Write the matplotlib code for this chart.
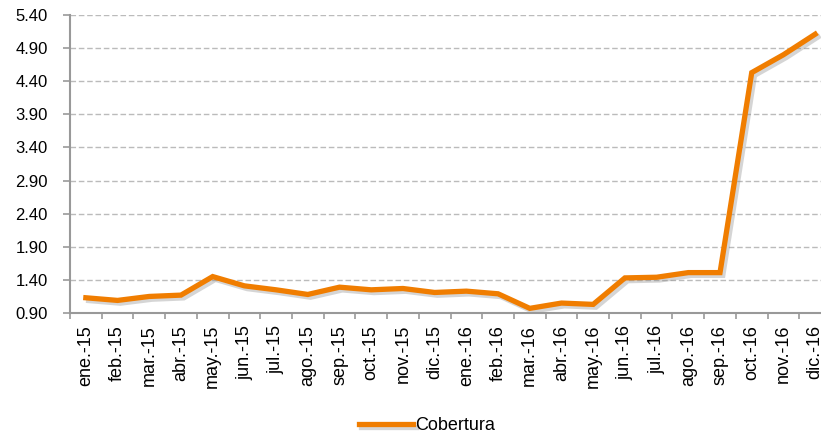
import matplotlib.pyplot as plt
import matplotlib.patheffects as pe
from matplotlib.ticker import FixedLocator

plt.rcParams['font.family'] = ['Liberation Sans', 'DejaVu Sans']

meses = ['ene.-15', 'feb.-15', 'mar.-15', 'abr.-15', 'may.-15', 'jun.-15',
         'jul.-15', 'ago.-15', 'sep.-15', 'oct.-15', 'nov.-15', 'dic.-15',
         'ene.-16', 'feb.-16', 'mar.-16', 'abr.-16', 'may.-16', 'jun.-16',
         'jul.-16', 'ago.-16', 'sep.-16', 'oct.-16', 'nov.-16', 'dic.-16']
cobertura = [1.13, 1.09, 1.15, 1.17, 1.45, 1.31, 1.25, 1.18, 1.29, 1.25, 1.27, 1.21,
             1.23, 1.19, 0.97, 1.05, 1.03, 1.43, 1.44, 1.51, 1.51, 4.53, 4.80, 5.11]
y_ticks = [0.90, 1.40, 1.90, 2.40, 2.90, 3.40, 3.90, 4.40, 4.90, 5.40]

fig = plt.figure(figsize=(8.21, 4.37), dpi=100)
ax = fig.add_axes([70 / 821, 124 / 437, 761 / 821, 298 / 437])

x = list(range(len(meses)))
ax.plot(x, cobertura, color='#F07D00', lw=3.8, label='Cobertura', solid_joinstyle='miter',
        path_effects=[pe.SimpleLineShadow(offset=(2, -2), shadow_color='#888888', alpha=0.35),
                      pe.Normal()])

ax.set_xlim(-0.5, len(meses) - 0.5)
ax.set_ylim(0.90, 5.40)
ax.set_yticks(y_ticks)
ax.set_yticklabels([f'{v:.2f}' for v in y_ticks], fontsize=12)
ax.set_xticks(x)
ax.set_xticklabels(meses, rotation=90, fontsize=13)
ax.tick_params(axis='x', which='major', length=0, pad=8.5)
ax.xaxis.set_minor_locator(FixedLocator([i - 0.5 for i in range(len(meses) + 1)]))
ax.tick_params(axis='x', which='minor', length=4, color='#999999', width=1.2)
ax.tick_params(axis='y', length=5, color='#999999', width=1.2, pad=11)

for v in y_ticks[1:]:
    ax.axhline(v, color='#BBBBBB', lw=1, ls=(0, (4, 2)), zorder=0)

for s in ['top', 'right']:
    ax.spines[s].set_visible(False)
for s in ['left', 'bottom']:
    ax.spines[s].set_color('#999999')
    ax.spines[s].set_linewidth(1.5)

leg = fig.legend(loc='center', bbox_to_anchor=(427 / 821, 1 - 426 / 437), frameon=False,
                 fontsize=13, handlelength=3.0, handletextpad=0.15)

fig.savefig('out.png', dpi=100)
